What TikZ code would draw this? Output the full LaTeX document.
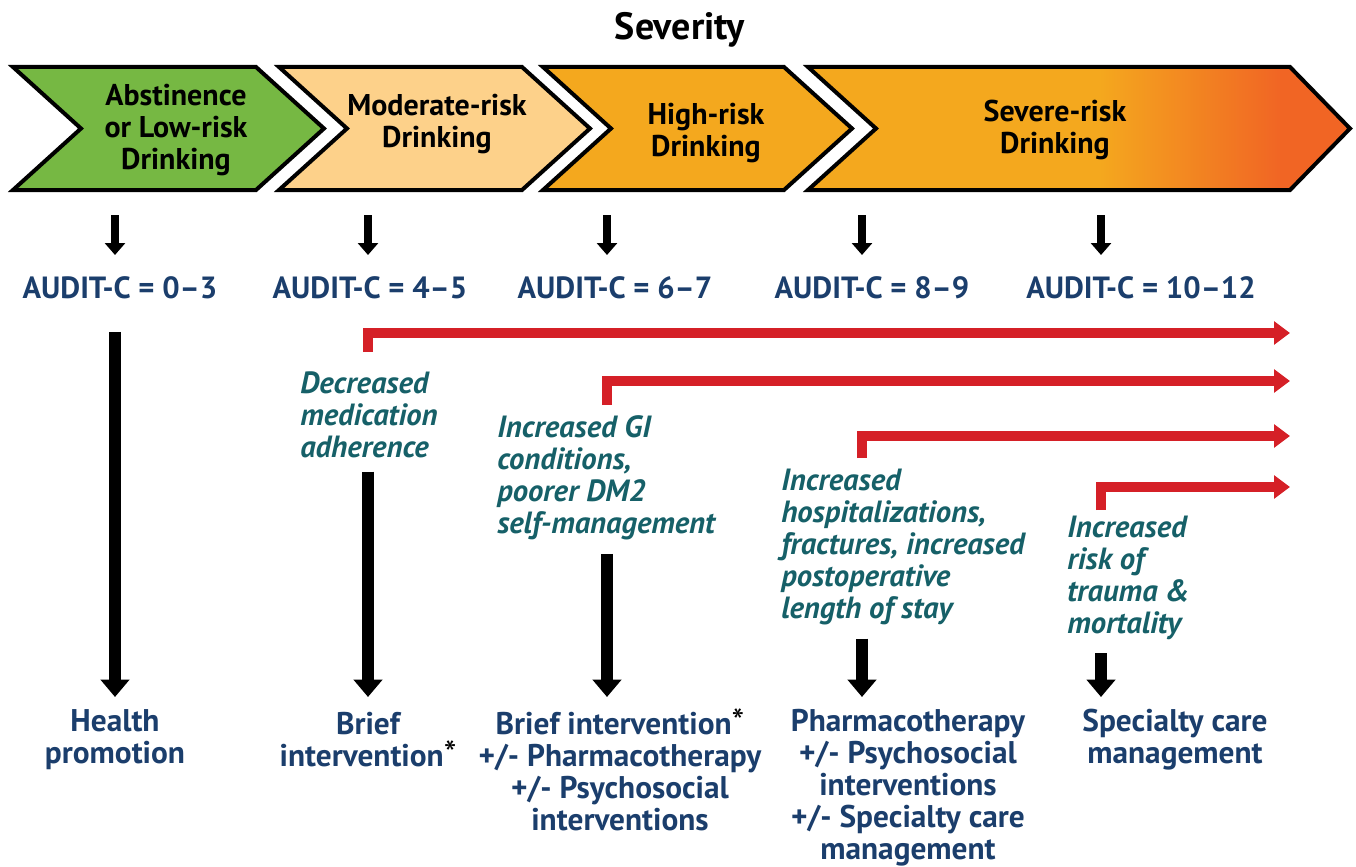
\documentclass[tikz,border=0pt]{standalone}
\usepackage{fontspec}
\setmainfont{PT Sans}
\usetikzlibrary{arrows.meta}
\definecolor{lowgreen}{RGB}{118,184,67}
\definecolor{modpeach}{RGB}{253,209,138}
\definecolor{highorange}{RGB}{244,168,30}
\definecolor{severeorange}{RGB}{241,101,36}
\definecolor{auditblue}{RGB}{27,62,108}
\definecolor{effectteal}{RGB}{22,96,104}
\definecolor{riskred}{RGB}{213,32,39}
\newcommand{\footstar}{\smash{\color{black}\mdseries\fontsize{27}{24}\selectfont*}}
\begin{document}
\begin{tikzpicture}[x=0.75pt,y=-0.75pt,
    chev/.style={draw=black, line width=3pt, line join=miter},
    chevtext/.style={font=\bfseries\fontsize{22.5}{24}\selectfont, align=center},
    audit/.style={text=auditblue, font=\bfseries\fontsize{23}{24}\selectfont},
    effect/.style={text=effectteal, font=\bfseries\itshape\fontsize{23}{24}\selectfont, align=left, anchor=west, inner sep=0pt},
    care/.style={text=auditblue, font=\bfseries\fontsize{23.5}{24}\selectfont, align=center, inner sep=0pt},
    smallarrow/.style={line width=6pt, -{Triangle[width=15pt,length=9pt]}},
    bigarrow/.style={line width=9pt, -{Triangle[width=21pt,length=13pt]}},
    redarrow/.style={riskred, line width=8pt, line join=miter, -{Triangle[width=17pt,length=12pt]}}]
\useasboundingbox (0,0) rectangle (1356,867);

% title
\node[font=\bfseries\fontsize{28.5}{30}\selectfont] (title) at (680,30) {Severity};

% chevrons
\draw[chev, fill=lowgreen] (13,67) -- (256,67) -- (324,128.5) -- (256,190) -- (13,190) -- (81,128.5) -- cycle;
\draw[chev, fill=modpeach] (279,67) -- (522,67) -- (590,128.5) -- (522,190) -- (279,190) -- (347,128.5) -- cycle;
\draw[chev, fill=highorange] (543,67) -- (784,67) -- (852,128.5) -- (784,190) -- (543,190) -- (611,128.5) -- cycle;
\begin{scope}
  \clip (808,67) -- (1290,67) -- (1350,128.5) -- (1290,190) -- (808,190) -- (876,128.5) -- cycle;
  \fill[highorange] (800,60) rectangle (1100,200);
  \shade[left color=highorange, right color=severeorange] (1099,60) rectangle (1281,200);
  \fill[severeorange] (1280,60) rectangle (1356,200);
\end{scope}
\draw[chev] (808,67) -- (1290,67) -- (1350,128.5) -- (1290,190) -- (808,190) -- (876,128.5) -- cycle;

\node[chevtext] (low) at (176,130) {Abstinence\\or Low-risk\\Drinking};
\node[chevtext] (moderate) at (437,124) {Moderate-risk\\Drinking};
\node[chevtext] (high) at (706,133) {High-risk\\Drinking};
\node[chevtext] (severe) at (1055,130) {Severe-risk\\Drinking};

% columns
\foreach \x [count=\i] in {115,368,607,862,1101} {
  \coordinate (top\i) at (\x,215);
  \coordinate (mid\i) at (\x,255);
  \coordinate (end\i) at (\x,697);
  \draw[smallarrow] (top\i) -- (mid\i);
}

% AUDIT-C scores
\node[audit] (score1) at (120,288) {AUDIT-C = 0--3};
\node[audit] (score2) at (370,288) {AUDIT-C = 4--5};
\node[audit] (score3) at (615,288) {AUDIT-C = 6--7};
\node[audit] (score4) at (872,288) {AUDIT-C = 8--9};
\node[audit] (score5) at (1141,288) {AUDIT-C = 10--12};

% risks
\coordinate (goal1) at (1290,333);
\coordinate (goal2) at (1290,381);
\coordinate (goal3) at (1290,436);
\coordinate (goal4) at (1290,487);
\draw[redarrow] (368,352) |- (goal1);
\draw[redarrow] (607,405) |- (goal2);
\draw[redarrow] (862,458) |- (goal3);
\draw[redarrow] (1101,510) |- (goal4);

\node[effect] (risk1) at (300,415) {Decreased\\medication\\adherence};
\node[effect] (risk2) at (497,478) {Increased GI\\conditions,\\poorer DM2\\self-management};
\node[effect] (risk3) at (781,547) {Increased\\hospitalizations,\\fractures, increased\\postoperative\\length of stay};
\node[effect] (risk4) at (1067,578) {Increased\\risk of\\trauma \&\\mortality};

% care
\node[care] (care1) at (115,740) {Health\\promotion};
\node[care] (care2) at (368,740) {Brief\\intervention\footstar};
\node[care] (care3) at (620,772) {Brief intervention\footstar\\+/- Pharmacotherapy\\+/- Psychosocial\\interventions};
\node[care] (care4) at (908,788) {Pharmacotherapy\\+/- Psychosocial\\interventions\\+/- Specialty care\\management};
\node[care] (care5) at (1175,740) {Specialty care\\management};

\draw[bigarrow] (score1.south -| end1) ++(0,28) -- (end1);
\draw[bigarrow] ([yshift=-10pt]risk1.south -| end2) -- (end2);
\draw[bigarrow] ([yshift=-10pt]risk2.south -| end3) -- (end3);
\draw[bigarrow] ([yshift=-10pt]risk3.south -| end4) -- (end4);
\draw[bigarrow] ([yshift=-10pt]risk4.south -| end5) -- (end5);
\end{tikzpicture}
\end{document}
